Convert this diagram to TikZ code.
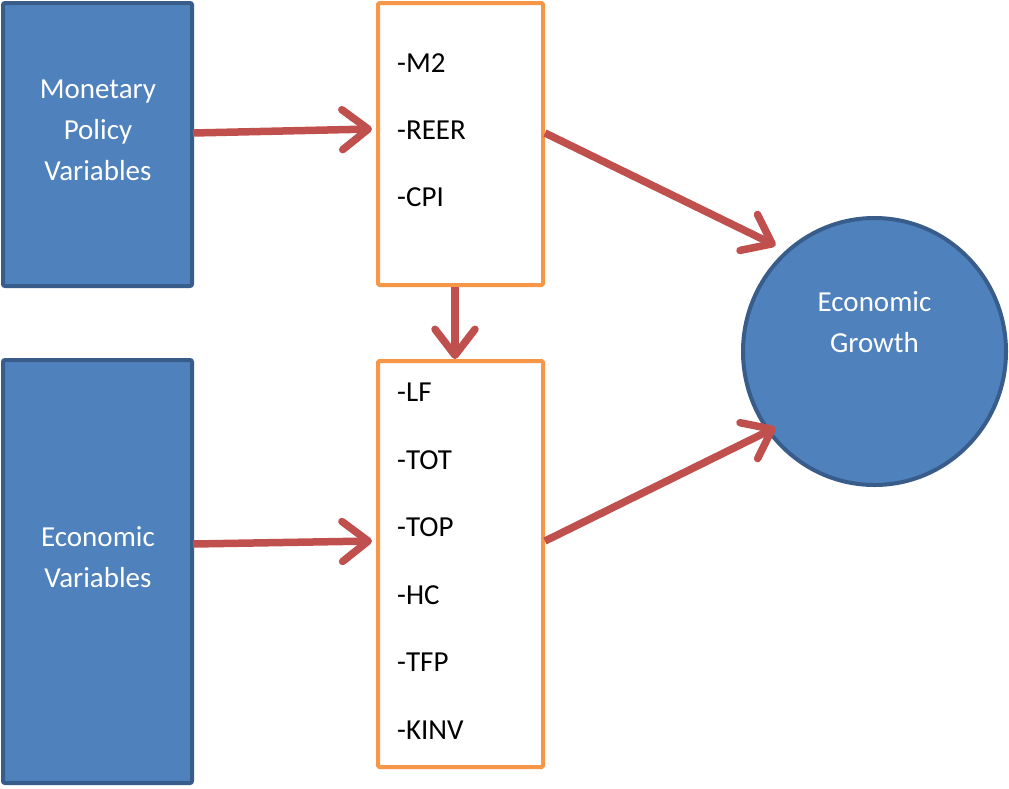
\documentclass[tikz,border=0pt]{standalone}
\usepackage{fontspec}
\setmainfont{Carlito}
\usetikzlibrary{arrows.meta,shapes.geometric}
\definecolor{boxblue}{HTML}{4F81BD}
\definecolor{boxedge}{HTML}{385D8A}
\definecolor{orng}{HTML}{F79646}
\definecolor{arrred}{HTML}{C0504D}
\begin{document}
\begin{tikzpicture}[x=1pt,y=-1pt,
  bluebox/.style={draw=boxedge,fill=boxblue,line width=4pt,rounded corners=2pt,inner sep=0pt},
  varbox/.style={draw=orng,line width=4pt,rounded corners=1.5pt,fill=white,inner sep=0pt},
  bluetext/.style={text=white,font=\fontsize{29}{41}\selectfont,align=center,inner sep=0pt},
  vartext/.style={text=black,font=\fontsize{29}{35}\selectfont,anchor=west,inner sep=0pt},
  arr/.style={draw=arrred,line width=7.5pt,-{Straight Barb[length=26pt,width=40pt,round]}}]
\useasboundingbox (0,0) rectangle (1009,788);
\node[bluebox,minimum width=189pt,minimum height=283pt] (A) at (97.5,144.5) {};
\node[bluebox,minimum width=189pt,minimum height=423pt] (B) at (97.5,571.5) {};
\node[varbox,minimum width=165pt,minimum height=282pt] (T) at (460.5,144) {};
\node[varbox,minimum width=165pt,minimum height=406pt] (V) at (460.5,564) {};
\node[ellipse,draw=boxedge,fill=boxblue,line width=4pt,inner sep=0pt,minimum width=263pt,minimum height=267pt] (E) at (874.5,351.5) {};
\node[bluetext] (At) at (98,130) {Monetary\\Policy\\Variables};
\node[bluetext] (Bt) at (98,557) {Economic\\Variables};
\node[bluetext] (Et) at (874.5,322) {Economic\\Growth};
\node[vartext] (m2) at (397,63) {-M2};
\node[vartext] (reer) at (397,130) {-REER};
\node[vartext] (cpi) at (397,197) {-CPI};
\node[vartext] (lf) at (397,392) {-LF};
\node[vartext] (tot) at (397,460) {-TOT};
\node[vartext] (top) at (397,527) {-TOP};
\node[vartext] (hc) at (397,595) {-HC};
\node[vartext] (tfp) at (397,662) {-TFP};
\node[vartext] (kinv) at (397,730) {-KINV};
\draw[arr] ([yshift=11.5pt,xshift=-1pt]A.east) -- ([yshift=15pt,xshift=-4pt]T.west);
\draw[arr] ([xshift=-5.5pt]T.south) -- ([xshift=-5.5pt,yshift=0pt]V.north);
\draw[arr] ([yshift=11pt]T.east) -- ([xshift=-99pt,yshift=106pt]E.center);
\draw[arr] ([yshift=23pt]V.east) -- ([xshift=-99pt,yshift=-76pt]E.center);
\draw[arr] ([yshift=27.5pt,xshift=-1pt]B.east) -- ([yshift=23pt,xshift=-4pt]V.west);
\end{tikzpicture}
\end{document}
